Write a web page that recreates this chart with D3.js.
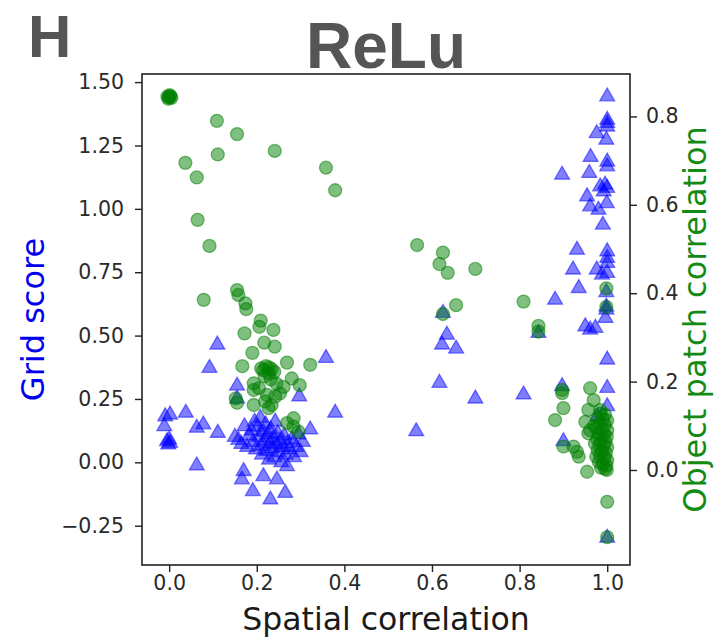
<!DOCTYPE html>
<html>
<head>
<meta charset="utf-8">
<script src="https://cdn.jsdelivr.net/npm/d3@7"></script>
<style>
  html, body { margin: 0; padding: 0; background: #fff; }
  svg { display: block; }
</style>
</head>
<body>
<svg id="chart" width="720" height="640"></svg>
<script>
// Grid score (left axis) against spatial correlation
const gridPoints = [
  [0.110,0.464],[0.092,0.372],[0.155,0.302],[0.155,0.251],[0.358,0.411],[0.297,0.260],[0.379,0.195],[0.322,0.129],
  [-0.009,0.181],[0.002,0.188],[-0.011,0.142],[-0.005,0.083],[-0.002,0.070],[0.002,0.076],[0.000,0.090],
  [0.038,0.195],[0.063,0.136],[0.078,0.149],[0.111,0.116],[0.063,-0.013],[0.172,0.142],
  [0.170,-0.035],[0.166,-0.068],[0.191,-0.114],[0.215,-0.055],[0.231,-0.147],[0.246,-0.068],[0.265,-0.121],[0.269,-0.016],
  [0.150,0.100],[0.158,0.088],[0.165,0.072],[0.178,0.060],[0.183,0.105],[0.188,0.125],[0.192,0.080],[0.195,0.160],
  [0.198,0.050],[0.202,0.140],[0.205,0.100],[0.208,0.175],[0.210,0.065],[0.212,0.030],[0.215,0.120],[0.218,0.085],
  [0.220,0.150],[0.222,0.045],[0.225,0.110],[0.228,0.010],[0.230,0.075],[0.232,0.130],[0.235,0.055],[0.238,0.095],
  [0.240,0.020],[0.242,0.160],[0.245,0.070],[0.248,0.115],[0.250,0.040],[0.253,0.085],[0.256,0.000],[0.260,0.060],
  [0.263,0.105],[0.266,0.030],[0.270,0.075],[0.275,0.050],[0.280,0.090],[0.285,0.020],[0.290,0.060],[0.295,0.110],
  [0.300,0.040],[0.305,0.080],
  [0.634,0.503],[0.623,0.464],[0.655,0.448],[0.625,0.589],[0.617,0.313],[0.699,0.251],[0.809,0.267],[0.564,0.122],
  [1.000,1.443],[1.000,1.351],[1.000,1.338],[1.000,1.324],[0.976,1.298],[0.998,1.272],[0.962,1.204],[1.000,1.186],
  [1.000,1.167],[0.897,1.134],[0.959,1.141],[0.984,1.088],[0.995,1.095],[1.000,1.082],[0.992,1.068],[0.954,1.049],
  [0.961,1.009],[0.980,0.996],[0.999,1.022],[0.990,0.937],[1.000,0.832],[1.000,0.806],[1.000,0.786],[0.931,0.838],
  [0.922,0.760],[0.976,0.760],[0.988,0.740],[1.000,0.747],[0.935,0.687],[0.881,0.641],[0.998,0.671],[0.998,0.602],
  [0.998,0.614],[0.996,0.569],[0.843,0.510],[0.950,0.536],[0.961,0.523],[0.973,0.530],[1.000,0.405],[0.897,0.300],
  [1.000,0.293],[1.000,0.221],[0.978,0.181],[0.900,0.083],[1.000,-0.298]
];

// Object patch correlation (right axis) against spatial correlation
const objectPoints = [
  [-0.004,0.845],[0.000,0.843],[0.003,0.846],[-0.002,0.840],[0.005,0.842],[0.001,0.848],
  [0.109,0.790],[0.155,0.760],[0.111,0.714],[0.241,0.722],[0.037,0.695],[0.063,0.662],[0.358,0.684],[0.379,0.633],
  [0.065,0.566],[0.092,0.507],
  [0.079,0.385],[0.155,0.407],[0.158,0.396],[0.174,0.377],[0.176,0.364],[0.209,0.338],[0.206,0.324],[0.238,0.317],
  [0.172,0.309],[0.217,0.288],[0.241,0.279],[0.190,0.265],[0.269,0.243],[0.322,0.238],[0.167,0.235],[0.210,0.230],
  [0.221,0.235],[0.234,0.228],[0.227,0.219],[0.280,0.207],[0.298,0.192],[0.193,0.196],[0.193,0.181],[0.261,0.188],
  [0.253,0.173],[0.242,0.166],[0.223,0.170],[0.219,0.155],[0.234,0.147],[0.227,0.140],[0.152,0.162],[0.155,0.152],
  [0.193,0.147],[0.284,0.117],[0.269,0.106],[0.284,0.098],[0.295,0.087],
  [0.215,0.226],[0.228,0.232],[0.240,0.222],[0.218,0.212],[0.232,0.205],[0.245,0.195],[0.205,0.185],
  [0.566,0.509],[0.625,0.492],[0.617,0.466],[0.636,0.446],[0.699,0.455],[0.655,0.373],[0.625,0.353],[0.809,0.381],
  [0.998,0.411],[0.998,0.369],[0.843,0.326],[0.843,0.313],[0.961,0.185],[0.897,0.181],[0.897,0.174],[0.900,0.140],
  [0.881,0.113],[0.969,0.158],[0.984,0.136],[0.957,0.136],[0.950,0.109],[0.900,0.053],[0.923,0.053],[0.931,0.041],
  [0.935,0.030],[0.954,-0.004],[0.999,0.000],[1.000,-0.072],[1.000,-0.152],[0.961,0.090],[0.957,0.083],
  [0.985,0.128],[0.995,0.125],[0.978,0.118],[0.990,0.115],[1.000,0.112],[0.982,0.105],[0.995,0.102],[0.975,0.095],
  [0.988,0.092],[1.000,0.090],[0.980,0.082],[0.993,0.080],[0.999,0.075],[0.977,0.070],[0.986,0.068],[0.996,0.064],
  [0.983,0.058],[0.992,0.055],[1.000,0.052],[0.978,0.045],[0.988,0.042],[0.997,0.038],[0.984,0.032],[0.994,0.028],
  [1.000,0.022],[0.981,0.018],[0.990,0.014],[0.998,0.010],[0.986,0.005],[0.995,0.003],[0.970,0.100],[0.972,0.060],
  [0.975,0.030]
];

const xTicks = [0.0, 0.2, 0.4, 0.6, 0.8, 1.0];
const gridTicks = [-0.25, 0.0, 0.25, 0.5, 0.75, 1.0, 1.25, 1.5];
const objectTicks = [0.0, 0.2, 0.4, 0.6, 0.8];

const svg = d3.select("#chart");
const box = { left: 142, right: 630, top: 74, bottom: 565 };

const x = d3.scaleLinear().domain([-0.062, 1.052]).range([box.left, box.right]);
const yGrid = d3.scaleLinear().domain([-0.405, 1.532]).range([box.bottom, box.top]);
const yObj = d3.scaleLinear().domain([-0.215, 0.896]).range([box.bottom, box.top]);

const textFont = "'DejaVu Sans', sans-serif";
const titleFont = "'Liberation Sans', Arial, sans-serif";

// axes
function styleAxis(g) {
  g.selectAll("path.domain").remove();
  g.selectAll(".tick line").attr("stroke", "#222").attr("stroke-width", 1.4);
  g.selectAll(".tick text").attr("fill", "#2a2a2a")
    .attr("font-family", textFont).attr("font-size", 20.5);
}

svg.append("g")
  .attr("transform", `translate(0,${box.bottom})`)
  .call(d3.axisBottom(x).tickValues(xTicks).tickFormat(d3.format(".1f")).tickSize(7).tickPadding(3))
  .call(styleAxis);

svg.append("g")
  .attr("transform", `translate(${box.left},0)`)
  .call(d3.axisLeft(yGrid).tickValues(gridTicks)
    .tickFormat(d => d3.format(".2f")(d).replace("-", "\u2212")).tickSize(7).tickPadding(11))
  .call(styleAxis);

svg.append("g")
  .attr("transform", `translate(${box.right},0)`)
  .call(d3.axisRight(yObj).tickValues(objectTicks).tickFormat(d3.format(".1f")).tickSize(7).tickPadding(9))
  .call(styleAxis);

// scatter marks: grid score triangles below, object correlation circles on top
const tri = d3.symbol().type(d3.symbolTriangle).size(96);
svg.append("g")
  .selectAll("path")
  .data(gridPoints)
  .join("path")
  .attr("d", tri)
  .attr("transform", d => `translate(${x(d[0])},${yGrid(d[1])})`)
  .attr("fill", "rgb(0,0,255)").attr("fill-opacity", 0.5)
  .attr("stroke", "rgb(0,0,255)").attr("stroke-opacity", 0.5).attr("stroke-width", 1.3);

svg.append("g")
  .selectAll("circle")
  .data(objectPoints)
  .join("circle")
  .attr("cx", d => x(d[0]))
  .attr("cy", d => yObj(d[1]))
  .attr("r", 6.5)
  .attr("fill", "rgb(0,128,0)").attr("fill-opacity", 0.5)
  .attr("stroke", "rgb(0,128,0)").attr("stroke-opacity", 0.5).attr("stroke-width", 1.3);

// frame
svg.append("rect")
  .attr("x", box.left).attr("y", box.top)
  .attr("width", box.right - box.left).attr("height", box.bottom - box.top)
  .attr("fill", "none").attr("stroke", "#222").attr("stroke-width", 1.6);

// labels
svg.append("text")
  .attr("x", (box.left + box.right) / 2).attr("y", 630)
  .attr("text-anchor", "middle")
  .attr("font-family", textFont).attr("font-size", 31.5).attr("fill", "#1a1a1a")
  .text("Spatial correlation");

svg.append("text")
  .attr("transform", `translate(44,${(box.top + box.bottom) / 2}) rotate(-90)`)
  .attr("text-anchor", "middle")
  .attr("font-family", textFont).attr("font-size", 32).attr("fill", "#0000ee")
  .text("Grid score");

svg.append("text")
  .attr("transform", `translate(706,${(box.top + box.bottom) / 2}) rotate(-90)`)
  .attr("text-anchor", "middle")
  .attr("font-family", textFont).attr("font-size", 32).attr("fill", "#138a13")
  .text("Object patch correlation");

svg.append("text")
  .attr("x", (box.left + box.right) / 2).attr("y", 68)
  .attr("text-anchor", "middle")
  .attr("font-family", titleFont).attr("font-weight", "bold")
  .attr("font-size", 64).attr("fill", "#555")
  .text("ReLu");

svg.append("text")
  .attr("x", 28).attr("y", 57)
  .attr("font-family", titleFont).attr("font-weight", "bold")
  .attr("font-size", 60).attr("fill", "#555")
  .text("H");
</script>
</body>
</html>
